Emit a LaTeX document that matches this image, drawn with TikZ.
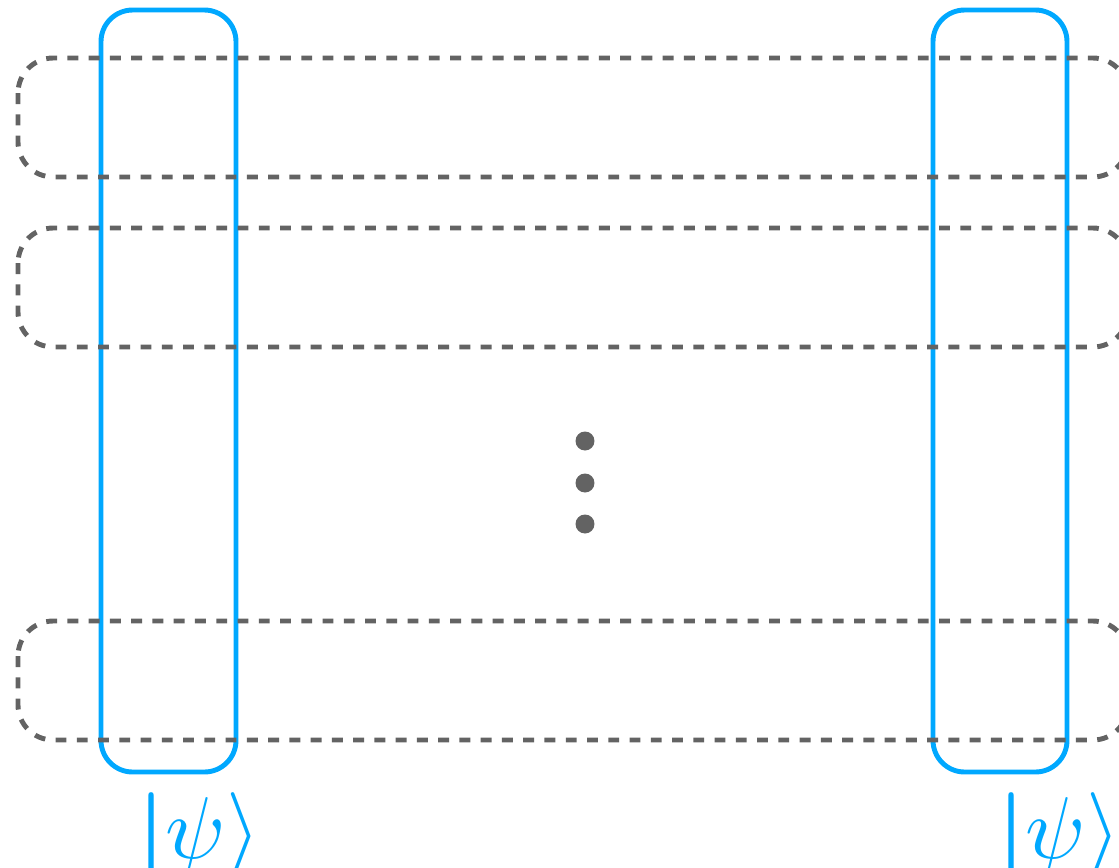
\documentclass[tikz,border=0pt]{standalone}
\definecolor{qblue}{RGB}{0,168,255}
\definecolor{rowgray}{RGB}{99,99,99}
\tikzset{
  qubitbox/.style={draw=qblue, line width=2.8pt, rounded corners=18pt},
  rowbox/.style={draw=rowgray, line width=2.8pt, dash pattern=on 6.2pt off 5.9pt, rounded corners=20pt},
  vdot/.style={circle, fill=rowgray, inner sep=0pt, minimum size=10.8pt},
  ketlabel/.style={text=qblue, inner sep=0pt, anchor=base west, scale=5}
}
\newcommand{\ketpsi}{{\boldmath$|$}$\psi\rangle$}
\begin{document}
\begin{tikzpicture}[x=0.02cm, y=-0.02cm]
\useasboundingbox (0,0) rectangle (1119,867);
\clip (0,0) rectangle (1119,867);
% vertical qubit frames
\draw[qubitbox] (101,10) rectangle (236,772);
\draw[qubitbox] (933,10) rectangle (1067,772);
% horizontal dashed rows
\draw[rowbox] (18,58) rectangle (1128,177);
\draw[rowbox] (18,228) rectangle (1128,347);
\draw[rowbox] (18,621) rectangle (1128,740);
% vertical ellipsis
\node[vdot] (d1) at (585,441) {};
\node[vdot] (d2) at (585,483) {};
\node[vdot] (d3) at (585,524) {};
% state labels
\node[ketlabel] (psiL) at (136,858) {\ketpsi};
\node[ketlabel] (psiR) at (996,858) {\ketpsi};
\end{tikzpicture}
\end{document}
